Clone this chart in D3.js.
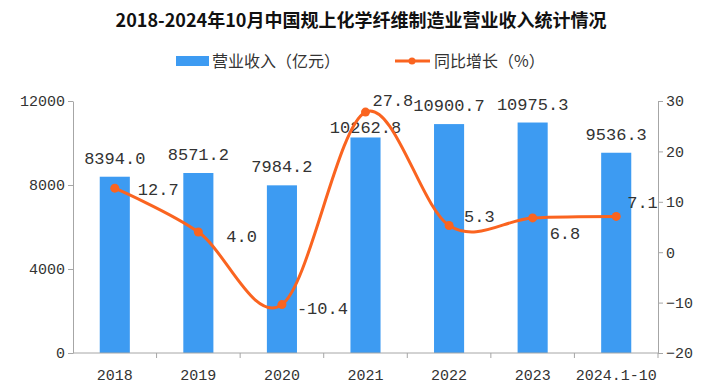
<!DOCTYPE html>
<html>
<head>
<meta charset="utf-8">
<script src="https://cdn.jsdelivr.net/npm/d3@7"></script>
<style>
  body { margin: 0; background: #fff; }
  .axis path, .axis line { stroke: #a6a6a6; }
  .axis text { font-family: "Liberation Mono", monospace; font-size: 15px; fill: #333; }
  .lbl { font-family: "Liberation Mono", monospace; font-size: 17px; fill: #333; }
</style>
</head>
<body>
<script>
var categories = ["2018", "2019", "2020", "2021", "2022", "2023", "2024.1-10"];
var revenue = [8394.0, 8571.2, 7984.2, 10262.8, 10900.7, 10975.3, 9536.3];
var growth = [12.7, 4.0, -10.4, 27.8, 5.3, 6.8, 7.1];
var leftTicks = [0, 4000, 8000, 12000];
var rightTicks = [-20, -10, 0, 10, 20, 30];

var w = 717, h = 388;
var pLeft = 73, pRight = 658, pTop = 101, pBottom = 353;

var svg = d3.select("body").append("svg")
  .attr("width", w)
  .attr("height", h);

var x = d3.scaleBand()
  .domain(categories)
  .range([pLeft, pRight])
  .paddingInner(0.64)
  .paddingOuter(0.32);
var xc = function(d) { return x(d) + x.bandwidth() / 2; };

var yL = d3.scaleLinear().domain([0, 12000]).range([pBottom, pTop]);
var yR = d3.scaleLinear().domain([-20, 30]).range([pBottom, pTop]);

// title
svg.append("text")
  .attr("x", 361)
  .attr("y", 27)
  .attr("text-anchor", "middle")
  .style("font-family", "'Noto Sans CJK SC', sans-serif")
  .style("font-weight", "bold")
  .style("font-size", "18px")
  .style("fill", "#111")
  .text("2018-2024年10月中国规上化学纤维制造业营业收入统计情况");

// legend
var lg = svg.append("g").style("font-family", "'Noto Sans CJK SC', sans-serif").style("font-size", "16px");
lg.append("rect").attr("x", 176).attr("y", 56).attr("width", 33).attr("height", 10).attr("fill", "#3d9bf2");
lg.append("text").attr("x", 212).attr("y", 67).attr("fill", "#333").text("营业收入（亿元）");
lg.append("line").attr("x1", 395).attr("x2", 430).attr("y1", 61).attr("y2", 61)
  .attr("stroke", "#fa6420").attr("stroke-width", 3);
lg.append("circle").attr("cx", 412).attr("cy", 61).attr("r", 3.5).attr("fill", "#fa6420");
lg.append("text").attr("x", 434).attr("y", 67).attr("fill", "#333").text("同比增长（%）");

// bars
svg.selectAll(".bar")
  .data(revenue)
  .enter().append("rect")
  .attr("class", "bar")
  .attr("x", function(d, i) { return x(categories[i]); })
  .attr("width", x.bandwidth())
  .attr("y", function(d) { return yL(d); })
  .attr("height", function(d) { return pBottom - yL(d); })
  .attr("fill", "#3d9bf2");

// axes
svg.append("g")
  .attr("class", "axis")
  .attr("transform", "translate(" + pLeft + ",0)")
  .call(d3.axisLeft(yL).tickValues(leftTicks).tickFormat(d3.format("d")).tickSize(5).tickSizeOuter(0));
svg.append("g")
  .attr("class", "axis")
  .attr("transform", "translate(" + pRight + ",0)")
  .call(d3.axisRight(yR).tickValues(rightTicks).tickFormat(d3.format("d")).tickSize(5).tickSizeOuter(0));

var xAxis = svg.append("g")
  .attr("class", "axis")
  .attr("transform", "translate(0," + pBottom + ")");
xAxis.append("line").attr("x1", pLeft).attr("x2", pRight).attr("stroke", "#a6a6a6");
var step = x.step();
xAxis.selectAll(".sep")
  .data(categories)
  .enter().append("line")
  .attr("x1", function(d) { return xc(d) + step / 2; })
  .attr("x2", function(d) { return xc(d) + step / 2; })
  .attr("y1", 0).attr("y2", 5)
  .attr("stroke", "#a6a6a6");
xAxis.selectAll(".cat")
  .data(categories)
  .enter().append("text")
  .attr("x", function(d) { return xc(d); })
  .attr("y", 27)
  .attr("text-anchor", "middle")
  .text(function(d) { return d; });

// bar labels (2021 label pushed down a bit like the original)
svg.selectAll(".blbl")
  .data(revenue)
  .enter().append("text")
  .attr("class", "lbl")
  .attr("x", function(d, i) { return xc(categories[i]); })
  .attr("y", function(d, i) { return yL(d) - (i === 3 ? 4 : 13); })
  .attr("text-anchor", "middle")
  .text(function(d) { return d.toFixed(1); });

// growth line
var line = d3.line()
  .x(function(d, i) { return xc(categories[i]); })
  .y(function(d) { return yR(d); })
  .curve(d3.curveCatmullRom.alpha(0));

svg.append("path")
  .datum(growth)
  .attr("d", line)
  .attr("fill", "none")
  .attr("stroke", "#fa6420")
  .attr("stroke-width", 3);

svg.selectAll(".dot")
  .data(growth)
  .enter().append("circle")
  .attr("cx", function(d, i) { return xc(categories[i]); })
  .attr("cy", function(d) { return yR(d); })
  .attr("r", 4.5)
  .attr("fill", "#fa6420");

// line label offsets from each point
var ldx = [23, 28, 15, 7, 15, 17, 11];
var ldy = [7, 10, 9, -6, -3, 21, -8];
svg.selectAll(".llbl")
  .data(growth)
  .enter().append("text")
  .attr("class", "lbl")
  .attr("x", function(d, i) { return xc(categories[i]) + ldx[i]; })
  .attr("y", function(d, i) { return yR(d) + ldy[i]; })
  .text(function(d) { return d.toFixed(1); });
</script>
</body>
</html>
